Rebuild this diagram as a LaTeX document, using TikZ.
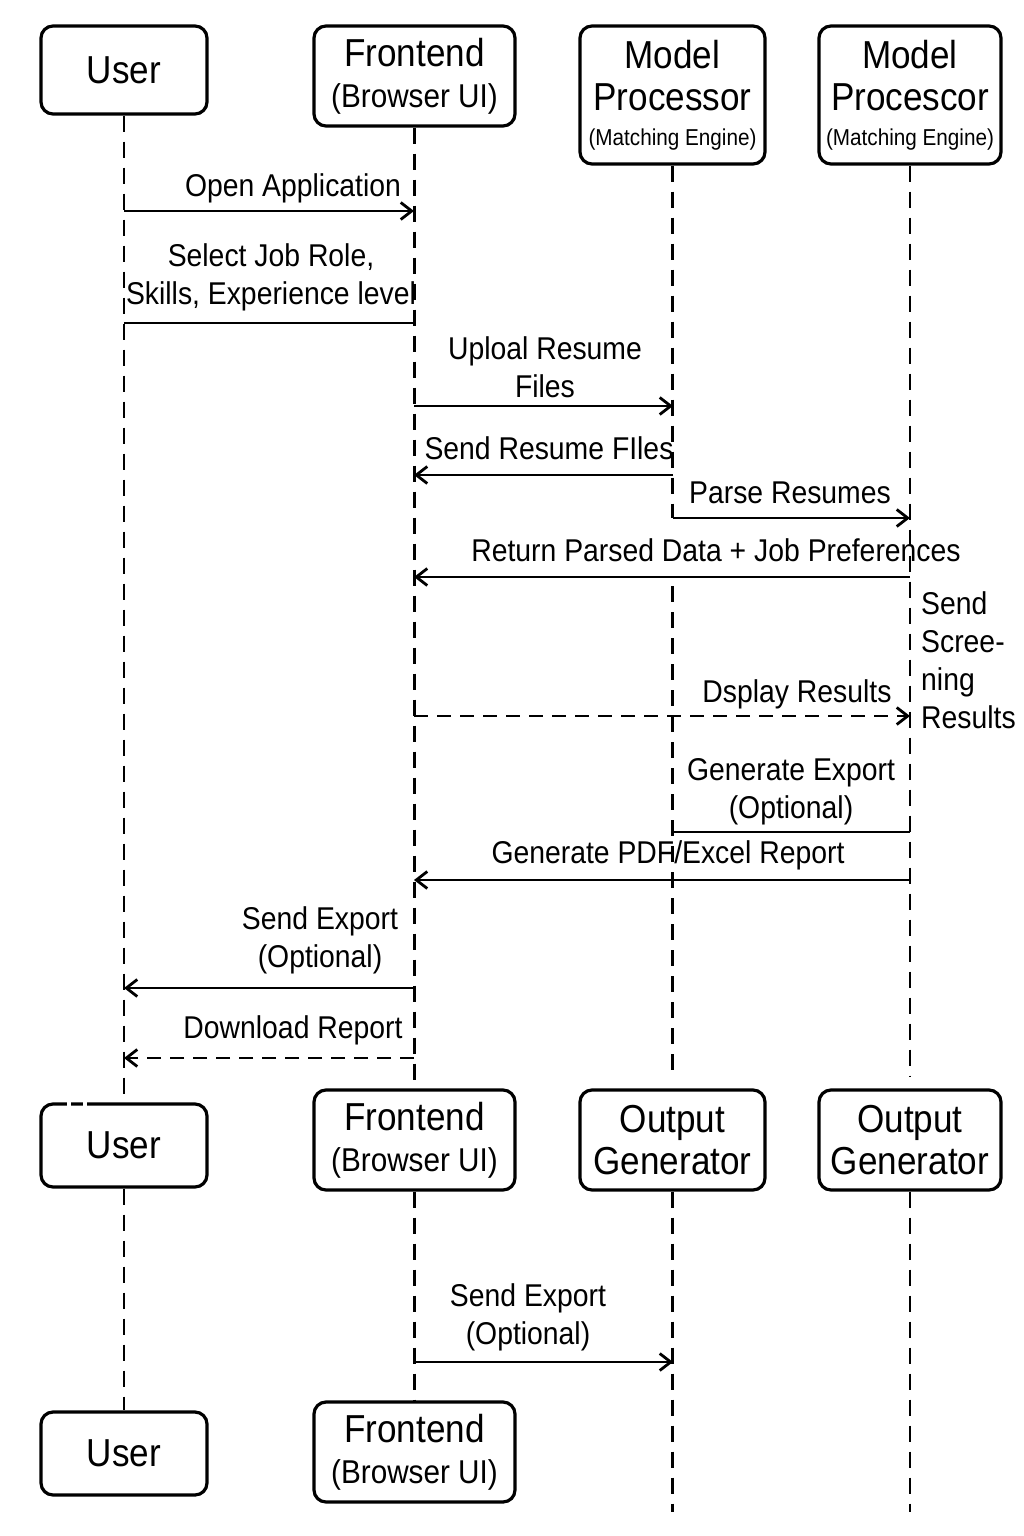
\documentclass[tikz,border=0pt]{standalone}
\usepackage{fontspec}
\setmainfont{Liberation Sans}[FakeStretch=0.9]
\usetikzlibrary{arrows.meta}

\begin{document}
\begin{tikzpicture}[x=1pt, y=-1pt, box/.style = {draw, rounded corners=12pt, line width=3.2pt, align=center, inner sep=0pt, font=\fontsize{39}{42}\selectfont}]
                \tikzstyle{life} = [dash pattern=on 16pt off 10pt, line width=2.2pt]
                \tikzstyle{msg} = [line width=2.8pt, -{Straight Barb[length=11pt,width=17pt,line width=2.8pt]}]
                \tikzstyle{plain} = [line width=2.8pt]
                \tikzstyle{reply} = [msg, dash pattern=on 14pt off 9pt]
                \tikzstyle{lbl} = [align=center, inner sep=0pt, font=\fontsize{31.5}{38}\selectfont]
                    \useasboundingbox (0,0) rectangle (1024,1536);

                    % top row
                    \node[box, minimum width=166pt, minimum height=88pt] (user) at (124,70) {User};
                    \node[box, minimum width=201pt, minimum height=100pt] (front) at (414.5,76) {Frontend\\[-1pt]{\fontsize{33}{36}\selectfont(Browser UI)}};
                    \node[box, minimum width=185pt, minimum height=138pt] (model) at (672.5,95) {Model\\Processor\\[-7pt]{\fontsize{23}{26}\selectfont(Matching Engine)}};
                    \node[box, minimum width=182pt, minimum height=138pt] (proc) at (910,95) {Model\\Procescor\\[-7pt]{\fontsize{23}{26}\selectfont(Matching Engine)}};

                    % middle row
                    \node[box, minimum width=166pt, minimum height=83pt] (user2) at (124,1145.5) {User};
                    \node[box, minimum width=201pt, minimum height=100pt] (front2) at (414.5,1140) {Frontend\\[-1pt]{\fontsize{33}{36}\selectfont(Browser UI)}};
                    \node[box, minimum width=185pt, minimum height=100pt] (out) at (672.5,1140) {Output\\Generator};
                    \node[box, minimum width=182pt, minimum height=100pt] (out2) at (910,1140) {Output\\Generator};
                    \draw[white, line width=5pt] (67,1104) -- (71,1104) (83,1104) -- (87,1104);

                    % bottom row
                    \node[box, minimum width=166pt, minimum height=83pt] (user3) at (124,1453.5) {User};
                    \node[box, minimum width=201pt, minimum height=100pt] (front3) at (414.5,1452) {Frontend\\[-1pt]{\fontsize{33}{36}\selectfont(Browser UI)}};

                    % lifeline ends
                    \coordinate (mgap1) at (672.5,518);
                    \coordinate (mgap2) at (672.5,586);
                    \coordinate (mend) at (672.5,1076);
                    \coordinate (pend) at (910,1076);
                    \coordinate (mbot) at (672.5,1512);
                    \coordinate (pbot) at (910,1512);

                    \draw[life] (user.south) -- (user2.north);
                    \draw[life] (user2.south) -- (user3.north);
                    \draw[life] (front.south) -- (front2.north);
                    \draw[life] (front2.south) -- (front3.north);
                    \draw[life] (model.south) -- (mgap1);
                    \draw[life] (mgap2) -- (mend);
                    \draw[life] (out.south) -- (mbot);
                    \draw[life] (proc.south) -- (pend);
                    \draw[life] (out2.south) -- (pbot);

                    % message ends
                    \coordinate (a1) at (124,211);  \coordinate (a2) at (414,211);
                    \coordinate (b1) at (124,323);  \coordinate (b2) at (414,323);
                    \coordinate (c1) at (414,406);  \coordinate (c2) at (673,406);
                    \coordinate (d1) at (673,475);  \coordinate (d2) at (414,475);
                    \coordinate (e1) at (673,518);  \coordinate (e2) at (910,518);
                    \coordinate (f1) at (910,577);  \coordinate (f2) at (414,577);
                    \coordinate (g1) at (414,716);  \coordinate (g2) at (910,716);
                    \coordinate (h1) at (673,832);  \coordinate (h2) at (910,832);
                    \coordinate (i1) at (910,880);  \coordinate (i2) at (414,880);
                    \coordinate (j1) at (414,988);  \coordinate (j2) at (124,988);
                    \coordinate (k1) at (414,1058); \coordinate (k2) at (124,1058);
                    \coordinate (l1) at (414,1362); \coordinate (l2) at (673,1362);

                    \draw[msg] (a1) to (a2);
                    \draw[plain] (b1) to (b2);
                    \draw[msg] (c1) to (c2);
                    \draw[msg] (d1) to (d2);
                    \draw[msg] (e1) to (e2);
                    \draw[msg] (f1) to (f2);
                    \draw[reply] (g1) to (g2);
                    \draw[plain] (h1) to (h2);
                    \draw[msg] (i1) to (i2);
                    \draw[msg] (j1) to (j2);
                    \draw[reply] (k1) to (k2);
                    \draw[msg] (l1) to (l2);

                    % labels
                    \node[lbl] (ta) at (293,188) {Open Application};
                    \node[lbl] (tb) at (271,277) {Select Job Role,\\Skills, Experience level};
                    \node[lbl] (tc) at (545,367) {Uploal Resume\\Files};
                    \node[lbl] (td) at (549,448) {Send Resume FIles};
                    \node[lbl] (te) at (790,493) {Parse Resumes};
                    \node[lbl] (tf) at (716,550) {Return Parsed Data + Job Preferences};
                    \node[lbl, align=left, anchor=west] (tg) at (921,660) {Send\\Scree-\\ning\\Results};
                    \node[lbl] (th) at (797,694) {Dsplay Results};
                    \node[lbl] (ti) at (791,792) {Generate Export\\(Optional)};
                    \node[lbl] (tj) at (668,855) {Generate PDF/Excel Report};
                    \node[lbl] (tk) at (320,940) {Send Export\\(Optional)};
                    \node[lbl] (tl) at (293,1030) {Download Report};
                    \node[lbl] (tm) at (528,1317) {Send Export\\(Optional)};

                \end{tikzpicture}
\end{document}
